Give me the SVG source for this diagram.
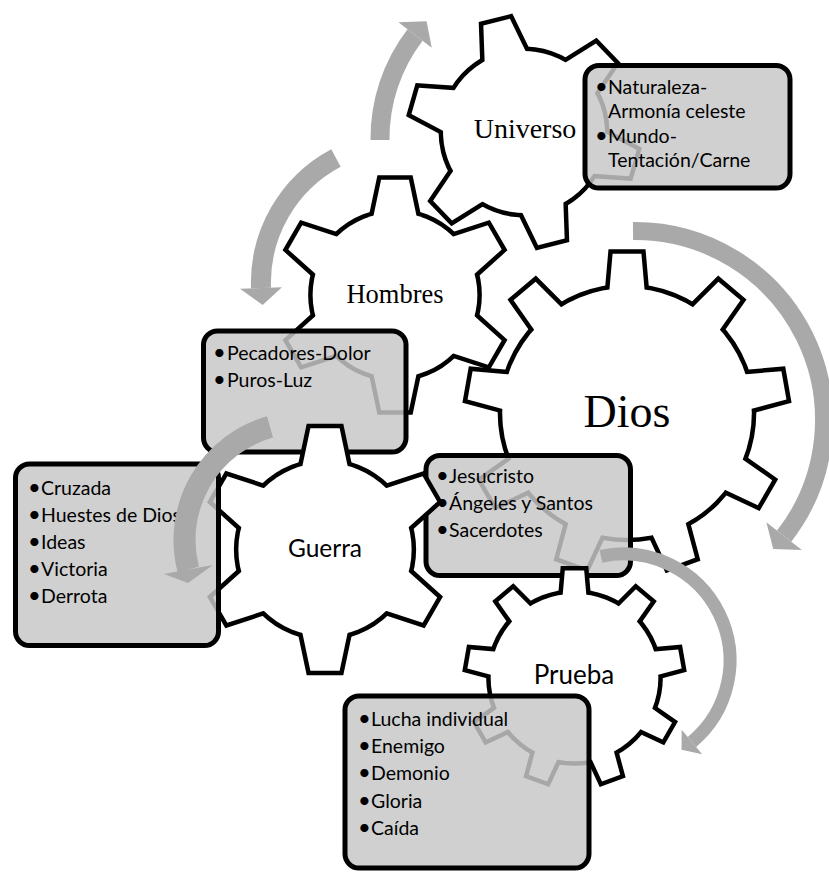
<svg xmlns="http://www.w3.org/2000/svg" xmlns:xlink="http://www.w3.org/1999/xlink" width="829" height="872" viewBox="0 0 829 872">
<style>
.gs{fill:#fff;stroke:#000;stroke-linejoin:miter}
.gf{fill:#fff;stroke:none}
.box{fill:#c7c7c7;fill-opacity:0.84;stroke:#000;stroke-width:5}
.serif{font-family:"Liberation Serif","Times New Roman",serif;fill:#000}
.sans{font-family:Lato,"Open Sans",sans-serif;fill:#000}
.bt{font-family:Lato,"Open Sans",sans-serif;font-size:19.5px;fill:#000}
.bu{font-size:22px}
.band{fill:none;stroke:#a9a9a9}
.head{fill:#a9a9a9}
</style>
<defs>
<polygon id="t6" points="-20.3,-60 -12,-99.3 12,-99.3 20.3,-60"/>
<g id="g6">
<circle r="71"/>
<use href="#t6"/>
<use href="#t6" transform="rotate(60)"/>
<use href="#t6" transform="rotate(120)"/>
<use href="#t6" transform="rotate(180)"/>
<use href="#t6" transform="rotate(240)"/>
<use href="#t6" transform="rotate(300)"/>
</g>
<polygon id="t9" points="-11.6,-70 -9,-99.6 9,-99.6 11.6,-70"/>
<g id="g9">
<circle r="78"/>
<use href="#t9"/>
<use href="#t9" transform="rotate(40)"/>
<use href="#t9" transform="rotate(80)"/>
<use href="#t9" transform="rotate(120)"/>
<use href="#t9" transform="rotate(160)"/>
<use href="#t9" transform="rotate(200)"/>
<use href="#t9" transform="rotate(240)"/>
<use href="#t9" transform="rotate(280)"/>
<use href="#t9" transform="rotate(320)"/>
</g>
</defs>

<g id="node-dios">
<use href="#g9" class="gs" stroke-width="5.63" transform="translate(627,413) scale(1.6)"/>
<use href="#g9" class="gf" transform="translate(627,413) scale(1.6)"/>
<text class="serif" x="627" y="427" font-size="46" text-anchor="middle">Dios</text>
</g>

<g id="node-universo">
<use href="#g6" class="gs" stroke-width="7.89" transform="translate(524,132) rotate(-14) scale(1.14)"/>
<use href="#g6" class="gf" transform="translate(524,132) rotate(-14) scale(1.14)"/>
<text class="serif" x="525" y="138" font-size="28" text-anchor="middle">Universo</text>
</g>

<g id="node-hombres">
<use href="#g6" class="gs" stroke-width="7.76" transform="translate(395,295) scale(1.16)"/>
<use href="#g6" class="gf" transform="translate(395,295) scale(1.16)"/>
<text class="serif" x="395" y="303" font-size="26.5" text-anchor="middle">Hombres</text>
</g>

<g id="box-universo">
<rect class="box" x="585" y="65.5" width="205" height="122.5" rx="14"/>
<text class="bt" y="94"><tspan class="bu" x="595">•</tspan><tspan x="608">Naturaleza-</tspan></text>
<text class="bt" x="608" y="118">Armonía celeste</text>
<text class="bt" y="143"><tspan class="bu" x="595">•</tspan><tspan x="608">Mundo-</tspan></text>
<text class="bt" x="608" y="167">Tentación/Carne</text>
</g>

<g id="box-hombres">
<rect class="box" x="203.5" y="331" width="202.5" height="121" rx="14"/>
<text class="bt" y="360"><tspan class="bu" x="213">•</tspan><tspan x="227">Pecadores-Dolor</tspan></text>
<text class="bt" y="387"><tspan class="bu" x="213">•</tspan><tspan x="227">Puros-Luz</tspan></text>
</g>

<g id="box-dios">
<rect class="box" x="426" y="455.5" width="204.5" height="120" rx="14"/>
<text class="bt" y="483"><tspan class="bu" x="436">•</tspan><tspan x="449">Jesucristo</tspan></text>
<text class="bt" y="510"><tspan class="bu" x="436">•</tspan><tspan x="449">Ángeles y Santos</tspan></text>
<text class="bt" y="537"><tspan class="bu" x="436">•</tspan><tspan x="449">Sacerdotes</tspan></text>
</g>

<g id="node-guerra">
<use href="#g6" class="gs" stroke-width="7.38" transform="translate(325,549.5) scale(1.22)"/>
<use href="#g6" class="gf" transform="translate(325,549.5) scale(1.22)"/>
<text class="sans" x="325" y="557" font-size="24.5" text-anchor="middle">Guerra</text>
</g>

<g id="box-guerra">
<rect class="box" x="15.5" y="464" width="203" height="181.5" rx="14"/>
<text class="bt" y="495"><tspan class="bu" x="28">•</tspan><tspan x="41">Cruzada</tspan></text>
<text class="bt" y="522"><tspan class="bu" x="28">•</tspan><tspan x="41">Huestes de Dios</tspan></text>
<text class="bt" y="549"><tspan class="bu" x="28">•</tspan><tspan x="41">Ideas</tspan></text>
<text class="bt" y="576"><tspan class="bu" x="28">•</tspan><tspan x="41">Victoria</tspan></text>
<text class="bt" y="603"><tspan class="bu" x="28">•</tspan><tspan x="41">Derrota</tspan></text>
</g>

<g id="node-prueba">
<use href="#g9" class="gs" stroke-width="8.37" transform="translate(574.5,677.5) scale(1.075)"/>
<use href="#g9" class="gf" transform="translate(574.5,677.5) scale(1.075)"/>
<text class="sans" x="574" y="684" font-size="26" text-anchor="middle">Prueba</text>
</g>

<g id="box-prueba">
<rect class="box" x="345" y="696" width="244" height="172" rx="14"/>
<text class="bt" y="726"><tspan class="bu" x="358">•</tspan><tspan x="371">Lucha individual</tspan></text>
<text class="bt" y="753"><tspan class="bu" x="358">•</tspan><tspan x="371">Enemigo</tspan></text>
<text class="bt" y="780"><tspan class="bu" x="358">•</tspan><tspan x="371">Demonio</tspan></text>
<text class="bt" y="808"><tspan class="bu" x="358">•</tspan><tspan x="371">Gloria</tspan></text>
<text class="bt" y="835"><tspan class="bu" x="358">•</tspan><tspan x="371">Caída</tspan></text>
</g>

<g id="connectors">
<path class="band" stroke-width="19" d="M380,140 A170.5,170.5 0 0 1 415.06,34.94"/>
<polygon class="head" points="431.74,47.69 426.61,21.35 398.37,22.18"/>
<path class="band" stroke-width="20" d="M335.97,157.97 A141.5,141.5 0 0 0 261,288.08"/>
<polygon class="head" points="281.98,287.32 262.64,305.04 240.01,288.85"/>
<path class="band" stroke-width="18" d="M633.02,231 A189,189 0 0 1 784.14,536.1"/>
<polygon class="head" points="766.38,522.28 773.23,548.9 801.89,549.92"/>
<path class="band" stroke-width="22" d="M270.01,426.94 A117.5,117.5 0 0 0 188.24,569.42"/>
<polygon class="head" points="213,565 188,583 164,574"/>
<path class="band" stroke-width="13" d="M600.99,556.3 A106.5,106.5 0 0 1 691.96,741.98"/>
<polygon class="head" points="681.67,729.73 681.5,749.72 702.24,754.24"/>
</g>
</svg>
